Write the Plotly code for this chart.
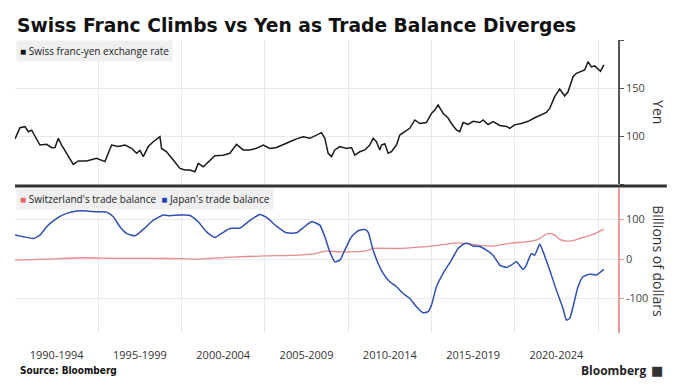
import plotly.graph_objects as go

# ---------------- data ----------------
chf_year = [1990.0, 1990.3, 1990.6, 1990.8, 1991.0,
            1991.2, 1991.5, 1991.9, 1992.2, 1992.4,
            1992.6, 1992.8, 1993.1, 1993.5, 1993.8,
            1994.3, 1994.9, 1995.1, 1995.4, 1995.8,
            1996.2, 1996.6, 1997.0, 1997.3, 1997.5,
            1997.7, 1998.0, 1998.3, 1998.7, 1998.8,
            1999.1, 1999.5, 1999.9, 2000.2, 2000.5,
            2000.8, 2001.0, 2001.3, 2001.6, 2002.0,
            2002.5, 2002.9, 2003.3, 2003.7, 2004.1,
            2004.5, 2004.9, 2005.3, 2005.7, 2006.1,
            2006.5, 2006.9, 2007.3, 2007.7, 2008.1,
            2008.4, 2008.6, 2008.8, 2009.0, 2009.2,
            2009.5, 2009.9, 2010.2, 2010.4, 2010.7,
            2011.0, 2011.3, 2011.5, 2011.7, 2011.9,
            2012.0, 2012.2, 2012.4, 2012.6, 2012.9,
            2013.1, 2013.4, 2013.7, 2014.0, 2014.3,
            2014.7, 2015.0, 2015.2, 2015.4, 2015.7,
            2016.0, 2016.2, 2016.5, 2016.7, 2016.9,
            2017.2, 2017.5, 2017.9, 2018.1, 2018.4,
            2018.7, 2019.1, 2019.5, 2019.7, 2020.0,
            2020.4, 2020.8, 2021.2, 2021.5, 2021.9,
            2022.1, 2022.4, 2022.7, 2023.0, 2023.2,
            2023.5, 2023.7, 2024.0, 2024.2, 2024.4,
            2024.6, 2024.8, 2025.0, 2025.15, 2025.35]
chf_jpy = [97, 108.6, 109.7, 104.5, 106,
           99.3, 90.6, 91.3, 87.8, 88,
           97.6, 90.6, 82, 70.5, 74,
           74, 76.7, 75, 73.3, 90.6,
           89, 90.6, 87.2, 82, 85,
           78.5, 89, 94, 99.3, 87,
           83.6, 75, 66.3, 64.6, 64.6,
           62.8, 71.5, 68, 73.3, 79.5,
           80, 82, 91.3, 85.5, 85.5,
           87.2, 90.6, 87, 88, 90.6,
           94, 97, 99.3, 97.6, 101,
           103.5, 97.6, 82, 78.5, 85.5,
           89, 87, 88, 80.2, 83.6,
           85.5, 90.6, 97.6, 94, 85.5,
           90.6, 92, 82, 83.6, 90.6,
           101, 104.5, 108, 116.7, 113,
           114, 123.6, 127, 132.3, 123.6,
           118.7, 113, 106.3, 104.5, 114,
           112, 115.3, 114, 116.7, 112,
           115, 111, 110, 108, 111.6,
           113, 115.3, 119, 121.6, 124.6,
           128.8, 141, 149, 141.7, 146,
           161.8, 165.3, 167.5, 168.8, 177.4,
           172, 173, 170.3, 167.5, 174]

jp_year = [1990.0, 1990.5, 1991.1, 1991.5, 1991.9,
           1992.5, 1993.1, 1993.7, 1994.3, 1994.9,
           1995.5, 1995.9, 1996.3, 1996.7, 1997.2,
           1997.7, 1998.3, 1998.9, 1999.3, 1999.9,
           2000.5, 2001.0, 2001.5, 2002.0, 2002.4,
           2002.9, 2003.5, 2004.0, 2004.7, 2005.1,
           2005.7, 2006.3, 2006.9, 2007.3, 2007.8,
           2008.3, 2008.6, 2008.9, 2009.2, 2009.5,
           2009.8, 2010.2, 2010.6, 2011.0, 2011.2,
           2011.5, 2011.8, 2012.1, 2012.5, 2012.9,
           2013.3, 2013.7, 2014.1, 2014.5, 2014.8,
           2015.0, 2015.3, 2015.7, 2016.2, 2016.6,
           2017.0, 2017.2, 2017.5, 2017.9, 2018.3,
           2018.7, 2019.1, 2019.5, 2019.8, 2020.1,
           2020.5, 2020.7, 2021.0, 2021.2, 2021.5,
           2021.7, 2022.1, 2022.5, 2022.9, 2023.1,
           2023.3, 2023.5, 2023.8, 2024.1, 2024.5,
           2024.9, 2025.35]
jp_balance = [60.8, 56.5, 52.3, 60.8, 81.9,
              103, 115.7, 121.5, 121.9, 119.8,
              119, 107, 81.9, 65, 59,
              75.1, 98.7, 111.4, 110, 111.4,
              110.5, 94.5, 69, 54.9, 65,
              77.6, 78.5, 94.5, 113, 105.4,
              83.5, 66.6, 66.6, 79.3, 94.5,
              86, 56.5, 18.5, -6.8, -2.5,
              22.8, 56.5, 71.7, 75, 68,
              22.8, -11, -36, -57.4, -70,
              -86.9, -99.6, -120.7, -135.9, -133,
              -116.5, -70, -36, -2.5, 27,
              39.7, 39.7, 33, 32, 22.8,
              10, -15, -21, -15, -6.8,
              -26, -15, 14.4, 10, 38,
              19, -27.8, -78.5, -124.8, -154,
              -150, -120.7, -70, -44.8, -38,
              -40, -26]

ch_year = [1990.0, 1992.0, 1994.0, 1996.0, 1998.0,
           2000.0, 2001.0, 2003.0, 2005.0, 2007.0,
           2008.0, 2008.6, 2009.5, 2011.0, 2011.5,
           2013.1, 2015.4, 2016.6, 2017.9, 2018.7,
           2019.1, 2019.9, 2020.7, 2021.4, 2021.8,
           2022.0, 2022.4, 2022.7, 2023.1, 2023.5,
           2024.1, 2024.7, 2025.35]
ch_balance = [-2.5, 0, 3.4, 2, 2,
              1, 0, 5, 8, 10,
              14, 20, 18.5, 20, 27,
              27, 35, 41, 35, 33,
              36, 41, 43.5, 50, 60.8,
              65, 60.8, 50, 45.6, 47,
              55, 62.5, 76]

assert len(chf_year) == len(chf_jpy)
assert len(jp_year) == len(jp_balance)
assert len(ch_year) == len(ch_balance)

period_mid = [1992.5, 1997.5, 2002.5, 2007.5, 2012.5, 2017.5, 2022.5]
period_labels = ["1990-1994", "1995-1999", "2000-2004", "2005-2009",
                 "2010-2014", "2015-2019", "2020-2024"]
period_bounds = [1990, 1995, 2000, 2005, 2010, 2015, 2020, 2025]

yen_ticks = [50, 100, 150, 200]
yen_labels = ["", "100", "150", ""]
bal_ticks = [-100, 0, 100]
bal_labels = ["-100", "0", "100"]

# ---------------- styling ----------------
FONT = "Open Sans"
GRID = "#e9e9e9"
BLACK = "#1a1a1a"
BLUE = "#2f4fb5"
RED = "#ea8a8a"

fig = go.Figure()
fig.add_trace(go.Scatter(x=chf_year, y=chf_jpy, mode="lines",
                         line=dict(color=BLACK, width=1.5),
                         xaxis="x2", yaxis="y", showlegend=False))
fig.add_trace(go.Scatter(x=ch_year, y=ch_balance, mode="lines",
                         line=dict(color=RED, width=1.3, shape="spline", smoothing=0.6),
                         xaxis="x", yaxis="y2", showlegend=False))
fig.add_trace(go.Scatter(x=jp_year, y=jp_balance, mode="lines",
                         line=dict(color=BLUE, width=1.5, shape="spline", smoothing=0.5),
                         xaxis="x", yaxis="y2", showlegend=False))

xr = [1990, 2026.2]
top_dom = [0.5085, 1.0]
bot_dom = [0.0, 0.4949]

fig.update_layout(
    width=680, height=391, autosize=False,
    margin=dict(l=15, r=62, t=40, b=58),
    paper_bgcolor="white", plot_bgcolor="white",
    font=dict(family=FONT, color="#333333", size=12),
    xaxis=dict(domain=[0, 1], anchor="y2", range=xr, showgrid=False,
               tickmode="array", tickvals=period_mid, ticktext=period_labels,
               ticks="", showline=False, zeroline=False,
               tickfont=dict(size=11, color="#333333"),
               ticklabelstandoff=14,
               minor=dict(tickmode="array", tickvals=period_bounds,
                          showgrid=True, gridcolor=GRID, gridwidth=1, ticks="")),
    xaxis2=dict(domain=[0, 1], anchor="y", range=xr, matches="x",
                showticklabels=False, showgrid=False, ticks="", zeroline=False,
                tickmode="array", tickvals=period_mid,
                minor=dict(tickmode="array", tickvals=period_bounds,
                           showgrid=True, gridcolor=GRID, gridwidth=1, ticks="")),
    yaxis=dict(domain=top_dom, anchor="x2", side="right", range=[50, 200],
               tickmode="array", tickvals=yen_ticks, ticktext=yen_labels,
               showline=True, linecolor="#555555", linewidth=1.5,
               ticks="outside", ticklen=4, tickcolor="#555555",
               showgrid=True, gridcolor=GRID, zeroline=False,
               tickfont=dict(size=11, color="#444444")),
    yaxis2=dict(domain=bot_dom, anchor="x", side="right", range=[-187, 180],
                tickmode="array", tickvals=bal_ticks, ticktext=bal_labels,
                showline=True, linecolor="#eb9a9a", linewidth=1.5,
                ticks="outside", ticklen=4, tickcolor="#eb9a9a",
                showgrid=True, gridcolor=GRID, zeroline=False,
                tickfont=dict(size=11, color="#444444")),
)

# separator between the panels
fig.add_shape(type="line", xref="paper", yref="paper",
              x0=0, x1=1.081, y0=0.5017, y1=0.5017,
              line=dict(color="#333333", width=3))

ann = []
ann.append(dict(text="<b>Swiss Franc Climbs vs Yen as Trade Balance Diverges</b>",
                xref="paper", yref="paper", x=0.0, y=1.051,
                xanchor="left", yanchor="middle", showarrow=False,
                font=dict(family="DejaVu Sans", size=18.7, color="#111111")))
ann.append(dict(text="<span style='color:#111111'>■</span> Swiss franc-yen exchange rate",
                xref="paper", yref="paper", x=0.0017, y=1.0,
                xanchor="left", yanchor="top", showarrow=False,
                bgcolor="#efefef", borderpad=3,
                font=dict(family=FONT, size=10, color="#222222")))
ann.append(dict(text="<span style='color:#e06666'>■</span> Switzerland's trade balance  "
                     "<span style='color:#1f45b5'>■</span> Japan's trade balance",
                xref="paper", yref="paper", x=0.0017, y=0.4949,
                xanchor="left", yanchor="top", showarrow=False,
                bgcolor="#efefef", borderpad=3,
                font=dict(family=FONT, size=10, color="#222222")))
ann.append(dict(text="Yen", xref="paper", yref="paper", x=1.068, y=0.754,
                textangle=90, showarrow=False, xanchor="center", yanchor="middle",
                font=dict(family=FONT, size=14, color="#333333")))
ann.append(dict(text="Billions of dollars", xref="paper", yref="paper", x=1.068, y=0.245,
                textangle=90, showarrow=False, xanchor="center", yanchor="middle",
                font=dict(family=FONT, size=14, color="#333333")))
ann.append(dict(text="<b>Source: Bloomberg</b>", xref="paper", yref="paper",
                x=0.005, y=-0.128, xanchor="left", yanchor="middle", showarrow=False,
                font=dict(family="DejaVu Sans Condensed", size=10, color="#111111")))
ann.append(dict(text="<b>Bloomberg</b>", xref="paper", yref="paper",
                x=1.052, y=-0.128, xanchor="right", yanchor="middle", showarrow=False,
                font=dict(family="Open Sans", size=12, color="#222222")))
ann.append(dict(text="■", xref="paper", yref="paper",
                x=1.078, y=-0.128, xanchor="right", yanchor="middle", showarrow=False,
                font=dict(family="DejaVu Sans", size=13, color="#333333")))
fig.update_layout(annotations=ann)

fig.write_html("out.html",
               config={"displayModeBar": False},
               post_script="document.body.style.margin='0';"
                           "document.body.style.overflow='hidden';")
